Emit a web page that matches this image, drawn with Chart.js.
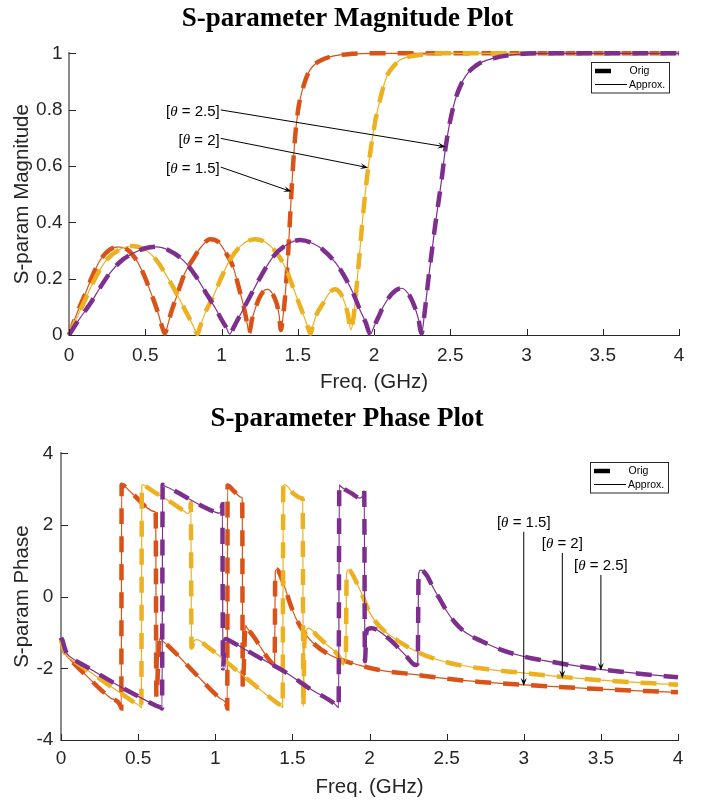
<!DOCTYPE html>
<html><head><meta charset="utf-8">
<script src="https://cdn.jsdelivr.net/npm/chart.js@4.4.1/dist/chart.umd.min.js"></script>
<style>
html,body{margin:0;padding:0;background:#fff;overflow:hidden;width:710px;height:800px;}
.wrap{position:absolute;left:0;width:710px;height:400px;}
</style></head><body>
<div class="wrap" style="top:0"><canvas id="mag" width="710" height="400"></canvas></div>
<div class="wrap" style="top:400px"><canvas id="phase" width="710" height="400"></canvas></div>
<script>
// ---------- tick values / labels ----------
const freqTicks = [0, 0.5, 1, 1.5, 2, 2.5, 3, 3.5, 4];
const freqTickLabels = ['0', '0.5', '1', '1.5', '2', '2.5', '3', '3.5', '4'];
const magTicks = [0, 0.2, 0.4, 0.6, 0.8, 1];
const magTickLabels = ['0', '0.2', '0.4', '0.6', '0.8', '1'];
const phaseTicks = [-4, -2, 0, 2, 4];
const phaseTickLabels = ['-4', '-2', '0', '2', '4'];

const thetaLabels = ['1.5', '2', '2.5'];
const legendLabels = ['Orig', 'Approx.'];

// ---------- magnitude, theta = 1.5 ----------
const magFreq15 = [0, 0.05, 0.103, 0.15, 0.2, 0.26, 0.32, 0.38, 0.442, 0.49, 0.53, 0.58, 0.61, 0.628, 0.645, 0.67, 0.705, 0.726, 0.76, 0.814, 0.87, 0.925, 0.98, 1.03, 1.076, 1.12, 1.142, 1.165, 1.181, 1.2, 1.225, 1.251, 1.28, 1.303, 1.33, 1.361, 1.378, 1.389, 1.40, 1.415, 1.437, 1.459, 1.481, 1.5, 1.514, 1.54, 1.568, 1.6, 1.667, 1.75, 1.85, 2.0, 2.5, 3.0, 3.5, 4.0];
const mag15 = [0, 0.074, 0.142, 0.205, 0.262, 0.3, 0.313, 0.304, 0.266, 0.215, 0.16, 0.085, 0.03, 0.005, 0.03, 0.08, 0.136, 0.17, 0.22, 0.27, 0.315, 0.34, 0.33, 0.29, 0.242, 0.155, 0.11, 0.05, 0.008, 0.055, 0.1, 0.135, 0.158, 0.162, 0.15, 0.113, 0.07, 0.018, 0.05, 0.124, 0.29, 0.509, 0.692, 0.79, 0.834, 0.888, 0.929, 0.955, 0.979, 0.992, 0.998, 1.0, 1.0, 1.0, 1.0, 1.0];

// ---------- magnitude, theta = 2 ----------
const magFreq20 = [0, 0.05, 0.125, 0.18, 0.245, 0.33, 0.41, 0.49, 0.573, 0.64, 0.705, 0.76, 0.8, 0.825, 0.842, 0.86, 0.89, 0.945, 1.0, 1.054, 1.13, 1.22, 1.3, 1.382, 1.43, 1.47, 1.51, 1.545, 1.57, 1.584, 1.6, 1.625, 1.667, 1.705, 1.743, 1.78, 1.809, 1.83, 1.848, 1.865, 1.89, 1.929, 1.962, 2.006, 2.039, 2.083, 2.13, 2.17, 2.3, 2.45, 3.0, 3.5, 4.0];
const mag20 = [0, 0.06, 0.148, 0.21, 0.266, 0.303, 0.316, 0.305, 0.266, 0.21, 0.148, 0.09, 0.048, 0.02, 0.003, 0.03, 0.075, 0.136, 0.205, 0.266, 0.318, 0.34, 0.325, 0.275, 0.225, 0.168, 0.11, 0.06, 0.022, 0.005, 0.035, 0.075, 0.113, 0.148, 0.162, 0.148, 0.113, 0.07, 0.018, 0.06, 0.195, 0.432, 0.594, 0.752, 0.834, 0.917, 0.955, 0.976, 0.994, 1.0, 1.0, 1.0, 1.0];

// ---------- magnitude, theta = 2.5 ----------
const magFreq25 = [0, 0.06, 0.147, 0.2, 0.267, 0.34, 0.42, 0.5, 0.573, 0.65, 0.748, 0.83, 0.9, 0.96, 1.0, 1.03, 1.054, 1.075, 1.1, 1.186, 1.26, 1.339, 1.42, 1.514, 1.6, 1.667, 1.75, 1.82, 1.87, 1.908, 1.945, 1.977, 2.0, 2.03, 2.06, 2.12, 2.181, 2.22, 2.257, 2.29, 2.312, 2.33, 2.356, 2.4, 2.443, 2.47, 2.52, 2.585, 2.673, 2.782, 2.936, 3.1, 3.5, 4.0];
const mag25 = [0, 0.05, 0.118, 0.165, 0.219, 0.262, 0.29, 0.308, 0.313, 0.302, 0.266, 0.21, 0.148, 0.095, 0.055, 0.028, 0.003, 0.022, 0.048, 0.136, 0.21, 0.278, 0.318, 0.337, 0.325, 0.302, 0.255, 0.195, 0.14, 0.089, 0.045, 0.003, 0.03, 0.065, 0.1, 0.148, 0.166, 0.15, 0.113, 0.06, 0.006, 0.07, 0.195, 0.384, 0.55, 0.668, 0.81, 0.905, 0.958, 0.982, 0.996, 1.0, 1.0, 1.0];

// ---------- phase, theta = 1.5 ----------
const phaseFreq15 = [0, 0.01, 0.02, 0.037, 0.06, 0.156, 0.318, 0.389, 0.391, 0.393, 0.458, 0.609, 0.614, 0.618, 0.64, 0.66, 0.707, 0.88, 1.031, 1.076, 1.078, 1.08, 1.12, 1.17, 1.175, 1.178, 1.197, 1.205, 1.25, 1.3, 1.333, 1.36, 1.382, 1.385, 1.389, 1.40, 1.42, 1.44, 1.463, 1.49, 1.528, 1.58, 1.636, 1.744, 1.852, 1.95, 2.068, 2.284, 2.5, 2.716, 3.0, 3.494, 4.0];
const phase15 = [-1.15, -1.35, -1.5, -1.66, -1.76, -2.17, -2.82, -3.08, -3.12, 3.12, 2.89, 2.37, 2.33, -2.79, -1.16, -1.24, -1.42, -2.19, -2.84, -3.06, -3.12, 3.1, 2.95, 2.77, 2.74, -2.51, -0.8, -0.86, -1.12, -1.45, -1.67, -1.82, -1.91, -1.92, 0.7, 0.76, 0.62, 0.4, 0.1, -0.25, -0.65, -1.02, -1.3, -1.63, -1.81, -1.93, -2.05, -2.17, -2.29, -2.38, -2.46, -2.58, -2.67];

// ---------- phase, theta = 2 ----------
const phaseFreq20 = [0, 0.01, 0.02, 0.037, 0.1, 0.2, 0.328, 0.45, 0.5, 0.516, 0.521, 0.524, 0.53, 0.545, 0.6, 0.707, 0.804, 0.822, 0.838, 0.842, 0.846, 0.86, 0.88, 0.95, 1.031, 1.117, 1.247, 1.38, 1.425, 1.437, 1.441, 1.452, 1.506, 1.56, 1.567, 1.571, 1.578, 1.59, 1.603, 1.668, 1.72, 1.776, 1.815, 1.832, 1.846, 1.852, 1.862, 1.875, 1.938, 2.003, 2.068, 2.176, 2.327, 2.5, 2.716, 3.0, 3.25, 3.5, 4.0];
const phase20 = [-1.18, -1.36, -1.5, -1.65, -1.84, -2.14, -2.52, -2.88, -3.02, -3.07, -3.1, 3.1, 3.13, 3.09, 2.93, 2.65, 2.37, 2.32, 2.4, 2.62, -1.42, -1.26, -1.2, -1.4, -1.67, -1.98, -2.44, -2.9, -3.04, -3.09, 3.1, 3.12, 2.88, 2.75, 2.72, -3.07, -1.3, -0.95, -0.88, -1.12, -1.33, -1.53, -1.75, -1.86, -1.8, 0.65, 0.745, 0.72, 0.19, -0.46, -0.84, -1.21, -1.58, -1.83, -2.0, -2.13, -2.24, -2.33, -2.46];

// ---------- phase, theta = 2.5 ----------
const phaseFreq25 = [0, 0.01, 0.02, 0.037, 0.06, 0.167, 0.339, 0.534, 0.62, 0.65, 0.655, 0.659, 0.665, 0.707, 0.923, 1.0, 1.025, 1.04, 1.046, 1.05, 1.06, 1.07, 1.085, 1.269, 1.452, 1.625, 1.776, 1.796, 1.8, 1.804, 1.812, 1.885, 1.938, 1.955, 1.966, 1.97, 1.98, 1.992, 2.014, 2.11, 2.24, 2.284, 2.297, 2.313, 2.318, 2.332, 2.37, 2.414, 2.46, 2.5, 2.55, 2.608, 2.652, 2.716, 2.846, 3.0, 3.25, 3.5, 3.75, 4.0];
const phase25 = [-1.15, -1.22, -1.38, -1.58, -1.68, -1.96, -2.4, -2.86, -3.05, -3.1, -3.12, 3.12, 3.1, 3.02, 2.51, 2.36, 2.33, 2.4, 2.58, -2.0, -1.3, -1.18, -1.21, -1.66, -2.1, -2.6, -3.0, -3.09, -3.1, 3.12, 3.08, 2.88, 2.75, 2.8, 2.96, -1.8, -1.0, -0.9, -0.88, -1.12, -1.67, -1.88, -1.91, -1.85, 0.62, 0.74, 0.6, 0.24, -0.1, -0.4, -0.7, -0.95, -1.08, -1.22, -1.47, -1.67, -1.87, -2.03, -2.15, -2.25];

// ---------- annotation points (freq, value) ----------
const magArrowHeads = [[1.459, 0.509], [1.962, 0.594], [2.47, 0.668]];
const magArrowTails = [[0.995, 0.596], [0.995, 0.698], [0.995, 0.799]];
const phaseArrowHeads = [[3.0, -2.49], [3.25, -2.28], [3.5, -2.07]];
const phaseArrowTails = [[3.0, 1.81], [3.25, 1.22], [3.5, 0.606]];

// ---------- styling ----------
const COLORS = ['#D95319', '#EDB120', '#7E2F8E'];
const SANS = '"Liberation Sans", Arial, Helvetica, sans-serif';
const SERIF = '"Liberation Serif", "Times New Roman", serif';

function pts(fr, v) { return fr.map((f, i) => ({ x: f, y: v[i] })); }

function buildDatasets(list) {
  const out = [];
  let order = 10;
  list.forEach((s, k) => {
    out.push({ data: pts(s[0], s[1]), borderColor: COLORS[k], borderWidth: 4.5, borderDash: [16, 12],
      borderCapStyle: 'butt', pointRadius: 0, cubicInterpolationMode: 'monotone', clip: 6, order: order-- });
    out.push({ data: pts(s[0], s[1]), borderColor: COLORS[k], borderWidth: 1.2,
      pointRadius: 0, cubicInterpolationMode: 'monotone', clip: 6, order: order-- });
  });
  return out;
}

function drawThetaLabel(ctx, val, x, y, align) {
  const parts = [['[', '15px ' + SANS], ['\u03B8', 'italic 15px ' + SERIF], [' = ' + val + ']', '15px ' + SANS]];
  let w = 0;
  parts.forEach(p => { ctx.font = p[1]; p.w = ctx.measureText(p[0]).width; w += p.w; });
  let cx = align === 'right' ? x - w : x - w / 2;
  ctx.textBaseline = 'middle'; ctx.textAlign = 'left'; ctx.fillStyle = '#000';
  parts.forEach(p => { ctx.font = p[1]; ctx.fillText(p[0], cx, y); cx += p.w; });
}

function drawArrow(ctx, x1, y1, x2, y2) {
  const ang = Math.atan2(y2 - y1, x2 - x1);
  const dx = Math.cos(ang), dy = Math.sin(ang);
  const L = 8, H = 3;
  ctx.strokeStyle = '#000'; ctx.lineWidth = 1;
  ctx.beginPath(); ctx.moveTo(x1, y1); ctx.lineTo(x2 - dx * L * 0.6, y2 - dy * L * 0.6); ctx.stroke();
  ctx.fillStyle = '#000';
  ctx.beginPath();
  ctx.moveTo(x2, y2);
  ctx.lineTo(x2 - dx * L - dy * H, y2 - dy * L + dx * H);
  ctx.lineTo(x2 - dx * L * 0.6, y2 - dy * L * 0.6);
  ctx.lineTo(x2 - dx * L + dy * H, y2 - dy * L - dx * H);
  ctx.closePath(); ctx.fill();
}

const decor = {
  id: 'decor',
  afterDraw(chart, args, o) {
    const ctx = chart.ctx, xs = chart.scales.x, ys = chart.scales.y, a = chart.chartArea;
    ctx.save();
    // inward tick marks
    ctx.strokeStyle = '#262626'; ctx.lineWidth = 1;
    ctx.beginPath();
    o.xTicks.forEach(v => { const p = Math.round(xs.getPixelForValue(v)) + 0.5; ctx.moveTo(p, a.bottom); ctx.lineTo(p, a.bottom - 6); });
    o.yTicks.forEach(v => { const p = Math.round(ys.getPixelForValue(v)) + 0.5; ctx.moveTo(a.left, p); ctx.lineTo(a.left + 7, p); });
    ctx.stroke();
    // annotations
    o.heads.forEach((h, i) => {
      const t = o.tails[i];
      const tx = xs.getPixelForValue(t[0]), ty = ys.getPixelForValue(t[1]);
      const hx = xs.getPixelForValue(h[0]), hy = ys.getPixelForValue(h[1]);
      drawArrow(ctx, tx, ty, hx, hy);
      if (o.textMode === 'left') drawThetaLabel(ctx, thetaLabels[i], tx - 1, ty + 2, 'right');
      else drawThetaLabel(ctx, thetaLabels[i], tx, ty - 9, 'center');
    });
    // legend box
    const lw = 78, lh = 30.5;
    const lx = Math.round(a.right - 10 - lw) + 0.5, ly = Math.round(a.top + 9) + 0.5;
    ctx.fillStyle = '#fff'; ctx.fillRect(lx, ly, lw, lh);
    ctx.strokeStyle = '#262626'; ctx.lineWidth = 1; ctx.strokeRect(lx, ly, lw, lh);
    ctx.strokeStyle = '#000';
    ctx.lineWidth = 4.5; ctx.beginPath(); ctx.moveTo(lx + 3.5, ly + 8.5); ctx.lineTo(lx + 19.5, ly + 8.5); ctx.stroke();
    ctx.lineWidth = 1; ctx.beginPath(); ctx.moveTo(lx + 3.5, ly + 22); ctx.lineTo(lx + 35.5, ly + 22); ctx.stroke();
    ctx.fillStyle = '#000'; ctx.font = '10.5px ' + SANS; ctx.textBaseline = 'middle'; ctx.textAlign = 'left';
    ctx.fillText(legendLabels[0], lx + 38, ly + 8.5);
    ctx.fillText(legendLabels[1], lx + 37.5, ly + 23);
    ctx.restore();
  }
};

function makeChart(id, cfg) {
  return new Chart(document.getElementById(id), {
    type: 'line',
    data: { datasets: cfg.datasets },
    options: {
      responsive: false, animation: false, devicePixelRatio: 1,
      layout: { padding: { left: 16, right: cfg.padRight, top: 0, bottom: 0 } },
      plugins: {
        legend: { display: false }, tooltip: { enabled: false },
        title: { display: true, text: cfg.title, color: '#000',
          font: { family: SERIF, size: 27, weight: 'bold' }, padding: { top: 3.3, bottom: 17.6 } },
        decor: cfg.decor
      },
      scales: {
        x: {
          type: 'linear', min: 0, max: 4,
          afterBuildTicks: s => { s.ticks = freqTicks.map(v => ({ value: v })); },
          afterFit: s => { s.height = cfg.xHeight; },
          ticks: { autoSkip: false, maxRotation: 0, padding: cfg.xTickPad, color: '#262626',
            font: { family: SANS, size: 19 }, callback: (v, i) => freqTickLabels[i] },
          grid: { drawOnChartArea: false, drawTicks: false },
          border: { color: '#262626', width: 1 },
          title: { display: true, text: 'Freq. (GHz)', color: '#262626',
            font: { family: SANS, size: 20.5 }, padding: { top: 0, bottom: cfg.xTitlePad } }
        },
        y: {
          type: 'linear', min: cfg.yMin, max: cfg.yMax,
          afterBuildTicks: s => { s.ticks = cfg.yTicks.map(v => ({ value: v })); },
          afterFit: s => { s.width = cfg.yWidth; },
          ticks: { autoSkip: false, padding: cfg.yTickPad, color: '#262626',
            font: { family: SANS, size: 19 }, callback: (v, i) => cfg.yLabels[i] },
          grid: { drawOnChartArea: false, drawTicks: false },
          border: { color: '#8a8a8a', width: 2 },
          title: { display: true, text: cfg.yTitle, color: '#262626',
            font: { family: SANS, size: 20.5 }, padding: { top: cfg.yTitlePad, bottom: 0 } }
        }
      }
    },
    plugins: [decor]
  });
}

makeChart('mag', {
  title: 'S-parameter Magnitude Plot', yTitle: 'S-param Magnitude',
  datasets: buildDatasets([[magFreq15, mag15], [magFreq20, mag20], [magFreq25, mag25]]),
  yMin: 0, yMax: 1, yTicks: magTicks, yLabels: magTickLabels,
  padRight: 31, xHeight: 65, yWidth: 53, xTickPad: 9.1, xTitlePad: 5.2, yTickPad: 6.5, yTitlePad: -5.8,
  decor: { xTicks: freqTicks, yTicks: magTicks, heads: magArrowHeads, tails: magArrowTails, textMode: 'left' }
});

makeChart('phase', {
  title: 'S-parameter Phase Plot', yTitle: 'S-param Phase',
  datasets: buildDatasets([[phaseFreq15, phase15], [phaseFreq20, phase20], [phaseFreq25, phase25]]),
  yMin: -4, yMax: 4, yTicks: phaseTicks, yLabels: phaseTickLabels,
  padRight: 32, xHeight: 60, yWidth: 45, xTickPad: 7.6, xTitlePad: 0.7, yTickPad: 7.7, yTitlePad: -6.3,
  decor: { xTicks: freqTicks, yTicks: phaseTicks, heads: phaseArrowHeads, tails: phaseArrowTails, textMode: 'above' }
});
</script></body></html>
